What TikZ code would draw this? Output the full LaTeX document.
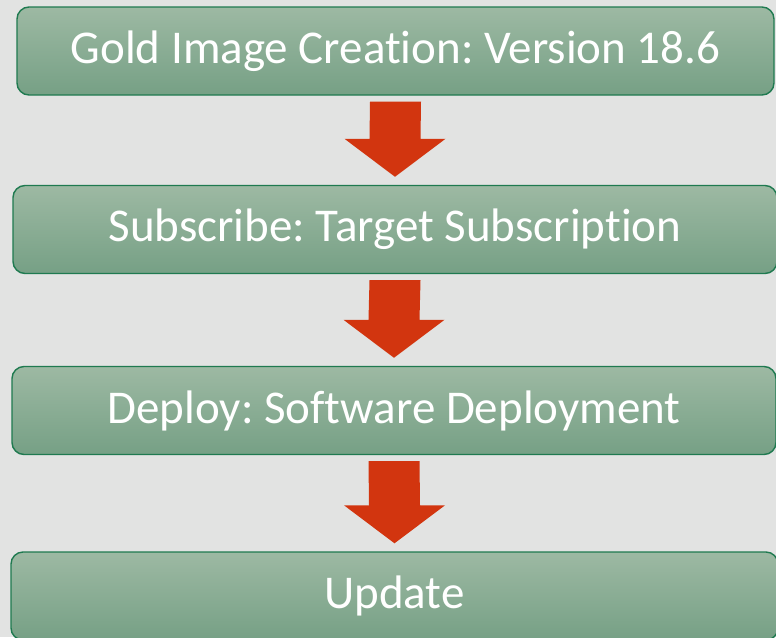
\documentclass[tikz,border=0pt]{standalone}
\usepackage{fontspec}
\setmainfont[Ligatures={NoCommon}]{Carlito}
\definecolor{bg}{HTML}{E2E3E2}
\definecolor{boxtop}{HTML}{9DB9A3}
\definecolor{boxbot}{HTML}{76A085}
\definecolor{boxline}{HTML}{1F7A50}
\definecolor{arrowred}{HTML}{D2350F}
\begin{document}
\frenchspacing
\begin{tikzpicture}[x=1pt,y=-1pt,
  stage/.style={rectangle, rounded corners=12pt, draw=boxline, line width=1.4pt,
    top color=boxtop, bottom color=boxbot, text=white,
    font=\fontsize{47}{56}\selectfont, inner sep=0pt, minimum height=88pt},
  downarrow/.style={fill=arrowred}]
\useasboundingbox (0,0) rectangle (776,637);
\fill[bg] (0,0) rectangle (776,637);
\begin{scope}
\clip (0,0) rectangle (776,637);
\node[stage, minimum width=757pt] (s1) at (395.5,51) {Gold Image Creation: Version 18.6};
\node[stage, minimum width=764pt] (s2) at (395,229.5) {Subscribe: Target Subscription};
\node[stage, minimum width=764pt] (s3) at (394,410.5) {Deploy: Software Deployment};
\node[stage, minimum width=767pt] (s4) at (394.5,596) {Update};
\end{scope}
\foreach \a/\b in {s1/s2,s2/s3,s3/s4}{
  \path (\a.south) ++(0,6) coordinate (top-\a);
  \path (\b.north) ++(0,-8) coordinate (tip-\a);
  \fill[downarrow] (top-\a) ++(-25.5,0) -- ++(51,0) -- ([xshift=25.5pt,yshift=38pt]tip-\a) -- ([xshift=50.5pt,yshift=38pt]tip-\a) -- (tip-\a)
    -- ([xshift=-50.5pt,yshift=38pt]tip-\a) -- ([xshift=-25.5pt,yshift=38pt]tip-\a) -- cycle;
}
\end{tikzpicture}
\end{document}
